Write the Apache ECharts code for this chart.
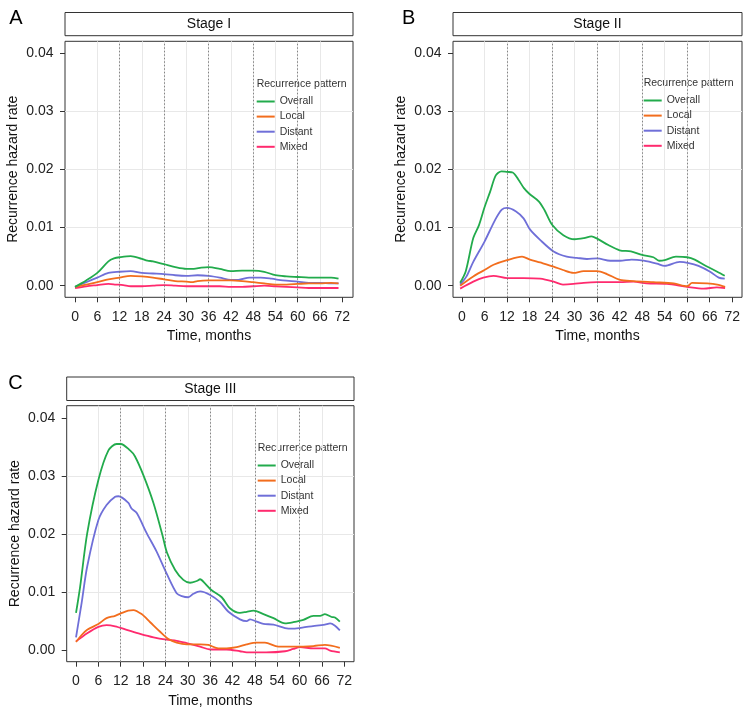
<!DOCTYPE html>
<html>
<head>
<meta charset="utf-8">
<script src="https://cdn.jsdelivr.net/npm/echarts@6/dist/echarts.min.js"></script>
<style>html,body{margin:0;padding:0;background:#fff}#c{width:744px;height:712px}</style>
</head>
<body>
<div id="c"></div>
<script>
// ---- data ----
const seriesNames = ['Overall', 'Local', 'Distant', 'Mixed'];
const panelTitles = ['Stage I', 'Stage II', 'Stage III'];
const panelLetters = ['A', 'B', 'C'];
const monthTicks = [0, 6, 12, 18, 24, 30, 36, 42, 48, 54, 60, 66, 72];
const rateTicks = [0, 0.01, 0.02, 0.03, 0.04];
const dottedMonths = [12, 24, 36, 48, 60];

const aOverall = [[0,-0.0002],[3,0.0009],[6,0.0022],[9,0.0042],[10.5,0.0047],[12,0.0049],[15,0.0051],[18,0.0046],[19.5,0.0043],[21,0.0042],[24,0.0037],[27,0.0032],[30,0.0029],[32,0.0029],[34,0.0031],[36,0.0032],[39,0.0029],[42,0.0025],[45,0.0026],[48,0.0026],[51,0.0024],[54,0.0018],[57,0.0016],[60,0.0015],[63,0.0014],[66,0.0014],[69,0.0014],[71,0.0012]];
const aLocal = [[0,-0.0002],[3,0.0002],[6,0.0006],[9,0.0011],[12,0.0014],[15,0.0017],[18,0.0016],[21,0.0014],[24,0.0011],[27,0.0008],[30,0.0007],[31.5,0.0006],[33,0.0008],[36,0.0009],[39,0.0009],[42,0.0009],[45,0.0008],[48,0.0006],[51,0.0004],[54,0.0002],[57,0.0002],[60,0.0003],[63,0.0004],[66,0.0004],[69,0.0005],[71,0.0004]];
const aDistant = [[0,-0.0002],[3,0.0006],[6,0.0014],[9,0.0022],[12,0.0024],[15,0.0025],[18,0.0022],[21,0.0021],[24,0.0020],[27,0.0018],[30,0.0017],[33,0.0018],[36,0.0017],[39,0.0014],[42,0.0010],[44,0.0010],[47,0.0014],[50,0.0014],[53,0.0012],[56,0.0009],[60,0.0007],[63,0.0005],[66,0.0005],[69,0.0004],[71,0.0004]];
const aMixed = [[0,-0.0004],[3,-0.0001],[6,0.0001],[9,0.0003],[11,0.0002],[13,0.0001],[15,-0.0001],[18,-0.0001],[21,0.0000],[24,0.0001],[27,0.0000],[30,-0.0001],[33,-0.0001],[36,-0.0001],[39,-0.0001],[42,-0.0002],[45,-0.0002],[48,-0.0001],[51,0.0000],[54,-0.0001],[57,-0.0002],[60,-0.0003],[63,-0.0004],[66,-0.0004],[69,-0.0004],[71,-0.0004]];

const bOverall = [[-0.5,0.0005],[1,0.0025],[3,0.0082],[4.5,0.0104],[6,0.0135],[7.5,0.0162],[9,0.0190],[10.5,0.0197],[12,0.0196],[13.5,0.0195],[15,0.0183],[16.5,0.0168],[18,0.0158],[20.5,0.0145],[22,0.0130],[24,0.0105],[27,0.0087],[30,0.0080],[32.5,0.0082],[34.5,0.0085],[36,0.0081],[39,0.0070],[42,0.0061],[45,0.0059],[48,0.0053],[51,0.0049],[52.5,0.0043],[54,0.0044],[57,0.0050],[60,0.0049],[62,0.0045],[65,0.0034],[68,0.0024],[70,0.0017]];
const bLocal = [[-0.5,0.0000],[3,0.0016],[6,0.0027],[8.4,0.0036],[12,0.0044],[16,0.0050],[18.1,0.0045],[20.8,0.0040],[24.4,0.0033],[26.9,0.0027],[29.7,0.0022],[32.4,0.0025],[36,0.0025],[38.6,0.0020],[42.1,0.0010],[45.7,0.0008],[51,0.0006],[56.4,0.0004],[60,-0.0001],[61.3,0.0005],[65.3,0.0004],[68,0.0002],[70.1,-0.0002]];
const bDistant = [[-0.5,0.0002],[1.2,0.0016],[3,0.0041],[6,0.0076],[8.8,0.0113],[10.6,0.0131],[12,0.0134],[14.4,0.0128],[16.4,0.0116],[18.1,0.0097],[20.8,0.0079],[24.4,0.0059],[27.9,0.0050],[30.6,0.0048],[33.3,0.0046],[36,0.0047],[39.5,0.0043],[42.1,0.0043],[45.2,0.0045],[48.4,0.0043],[51.9,0.0038],[54,0.0034],[58,0.0041],[60.4,0.0039],[63,0.0034],[66.1,0.0024],[68.4,0.0014],[70,0.0012]];
const bMixed = [[-0.5,-0.0005],[3,0.0007],[5.7,0.0014],[8.4,0.0017],[12,0.0013],[16.4,0.0013],[20.8,0.0012],[24.4,0.0007],[26.9,0.0002],[29.7,0.0003],[32.4,0.0005],[36,0.0006],[42.1,0.0006],[45.7,0.0007],[49.2,0.0004],[54.6,0.0003],[60,-0.0002],[64.4,-0.0005],[67.9,-0.0003],[70.1,-0.0004]];

const cOverall = [[0,0.0064],[1.1,0.0109],[3,0.0201],[6,0.0293],[8.7,0.0344],[10.9,0.0355],[12,0.0355],[14.5,0.0344],[15.8,0.0334],[18.1,0.0301],[20.8,0.0253],[23.2,0.0198],[24.4,0.0168],[26.6,0.0138],[28.8,0.0121],[30.6,0.0116],[32.4,0.0119],[33.3,0.0122],[34.6,0.0115],[36.4,0.0103],[39.1,0.0091],[41.3,0.0072],[44,0.0064],[45.8,0.0066],[47.6,0.0068],[50.3,0.0062],[53,0.0055],[56.1,0.0046],[58.3,0.0048],[61,0.0052],[63.7,0.0059],[65.5,0.0059],[66.8,0.0062],[68.6,0.0057],[69.5,0.0056],[70.8,0.0049]];
const cLocal = [[0,0.0014],[1.5,0.0026],[3,0.0035],[6,0.0045],[8.2,0.0055],[10.5,0.0059],[12.3,0.0064],[14,0.0068],[15.4,0.0069],[17.6,0.0062],[19.9,0.0048],[22.5,0.0032],[24.8,0.0019],[27,0.0013],[29.7,0.0010],[33.3,0.0010],[35.5,0.0009],[38.2,0.0003],[40.4,0.0003],[43.1,0.0005],[45.8,0.0010],[48.5,0.0013],[50.7,0.0013],[54.3,0.0006],[58.3,0.0006],[63.7,0.0007],[66.8,0.0009],[70.8,0.0004]];
const cDistant = [[0,0.0022],[1.5,0.0081],[3,0.0144],[6,0.0224],[8.2,0.0250],[10.5,0.0264],[11.4,0.0265],[14,0.0254],[14.9,0.0244],[16.3,0.0236],[19,0.0201],[21.6,0.0170],[24.3,0.0132],[27,0.0098],[28.4,0.0093],[30.1,0.0091],[31.5,0.0097],[33.3,0.0101],[36,0.0095],[38.6,0.0083],[40.9,0.0066],[44,0.0053],[45.8,0.0050],[46.7,0.0053],[48.5,0.0049],[50.3,0.0045],[53,0.0044],[56.1,0.0038],[58.3,0.0037],[61.9,0.0040],[64.6,0.0042],[66.8,0.0044],[68.2,0.0046],[69.5,0.0042],[70.8,0.0034]];
const cMixed = [[0,0.0015],[3,0.0029],[6,0.0040],[8.2,0.0043],[10.5,0.0041],[13.6,0.0035],[17.2,0.0028],[20.8,0.0022],[24.3,0.0018],[27,0.0016],[29.7,0.0012],[33.3,0.0006],[36,0.0001],[40.4,0.0001],[44,-0.0002],[45.8,-0.0004],[51,-0.0004],[56.1,-0.0002],[58.3,0.0002],[60.1,0.0005],[63.7,0.0003],[66.8,0.0003],[68.2,-0.0001],[70.8,-0.0004]];

const panelData = [
  [aOverall, aLocal, aDistant, aMixed],
  [bOverall, bLocal, bDistant, bMixed],
  [cOverall, cLocal, cDistant, cMixed]
];

// ---- layout / style ----
const FONT = '"Liberation Sans", Arial, Helvetica, sans-serif';
const colors = ['#22ab4c', '#f26d1d', '#6f6fd8', '#ff2a6e'];
const grids = [
  {left: 65, top: 41.3, width: 288, height: 256},
  {left: 453, top: 41.3, width: 289, height: 256},
  {left: 66.7, top: 405.7, width: 287.3, height: 256}
];
const xRanges = [[-2.7, 74.9], [-2.4, 74.6], [-2.5, 74.6]];
const yRange = [-0.002, 0.0421];
const strips = [
  {x: 65, y: 12.5, w: 288, h: 23.2},
  {x: 453, y: 12.5, w: 289, h: 23.2},
  {x: 66.7, y: 377, w: 287.3, h: 23.5}
];
const letterPos = [[15.8, 18.5], [408.7, 18.5], [15.5, 383.5]];
const legendPos = [
  {left: 256.7, top: 96, titleY: 84.3},
  {left: 643.7, top: 95, titleY: 82.7},
  {left: 257.7, top: 460, titleY: 448.3}
];

const chart = echarts.init(document.getElementById('c'), null, {renderer: 'canvas'});

const gridOpts = grids.map(g => Object.assign({show: true, borderColor: '#333', borderWidth: 1, backgroundColor: '#fff', containLabel: false}, g));

const xAxes = grids.map((g, i) => ({
  type: 'value', gridIndex: i, min: xRanges[i][0], max: xRanges[i][1],
  minInterval: 3, maxInterval: 3,
  axisLine: {show: false, onZero: false},
  axisTick: {show: true, length: 5, customValues: monthTicks, lineStyle: {color: '#333', width: 1}},
  axisLabel: {customValues: monthTicks, margin: 12.5, fontSize: 14, color: '#222', fontFamily: FONT},
  splitLine: {show: true, showMinLine: false, showMaxLine: false, lineStyle: {color: '#e8e8e8', width: 1}},
  name: 'Time, months', nameLocation: 'middle', nameGap: 32,
  nameTextStyle: {fontSize: 14, color: '#111', fontFamily: FONT}
}));

const yAxes = grids.map((g, i) => ({
  type: 'value', gridIndex: i, min: yRange[0], max: yRange[1],
  minInterval: 0.005, maxInterval: 0.005,
  axisLine: {show: false, onZero: false},
  axisTick: {show: true, length: 5, customValues: rateTicks, lineStyle: {color: '#333', width: 1}},
  axisLabel: {customValues: rateTicks, margin: 11.5, fontSize: 14, color: '#222', fontFamily: FONT,
    formatter: v => v.toFixed(2)},
  splitLine: {show: true, showMinLine: false, showMaxLine: false, lineStyle: {color: '#e8e8e8', width: 1}},
  name: 'Recurrence hazard rate', nameLocation: 'middle', nameGap: 45,
  nameTextStyle: {fontSize: 14, color: '#111', fontFamily: FONT}
}));

const series = [];
panelData.forEach((arrs, p) => {
  arrs.forEach((d, k) => {
    const s = {
      name: seriesNames[k], type: 'line', xAxisIndex: p, yAxisIndex: p,
      data: d, symbol: 'none', smooth: 0.3,
      lineStyle: {color: colors[k], width: 1.8},
      itemStyle: {color: colors[k]},
      z: 3 + (3 - k)
    };
    if (k === 0) {
      s.markLine = {
        silent: true, symbol: 'none', label: {show: false}, animation: false,
        lineStyle: {type: [1.5, 2], color: '#777', width: 0.9},
        data: dottedMonths.map(m => ({xAxis: m}))
      };
    }
    series.push(s);
  });
});

const legends = legendPos.map(l => ({
  orient: 'vertical', left: l.left, top: l.top, padding: 0,
  itemWidth: 18, itemHeight: 14, itemGap: 4.1,
  icon: 'path://M0,0 L18,0 L18,2 L0,2 Z', symbolKeepAspect: true,
  data: seriesNames, selectedMode: false,
  textStyle: {fontSize: 10.5, color: '#333', fontFamily: FONT}
}));

const graphic = [];
strips.forEach((s, i) => {
  graphic.push({type: 'rect', shape: {x: s.x, y: s.y, width: s.w, height: s.h},
    style: {fill: '#fff', stroke: '#333', lineWidth: 1}});
  graphic.push({type: 'text', x: s.x + s.w / 2, y: s.y + s.h / 2 + 0.5,
    style: {text: panelTitles[i], fontSize: 14, fontFamily: FONT, fill: '#111', align: 'center', verticalAlign: 'middle'}});
  graphic.push({type: 'text', x: letterPos[i][0], y: letterPos[i][1],
    style: {text: panelLetters[i], fontSize: 20, fontFamily: FONT, fill: '#000', align: 'center', verticalAlign: 'middle'}});
  graphic.push({type: 'text', x: legendPos[i].left, y: legendPos[i].titleY,
    style: {text: 'Recurrence pattern', fontSize: 10.5, fontFamily: FONT, fill: '#333', align: 'left', verticalAlign: 'middle'}});
});

chart.setOption({
  animation: false,
  backgroundColor: '#fff',
  grid: gridOpts,
  xAxis: xAxes,
  yAxis: yAxes,
  legend: legends,
  series: series,
  graphic: graphic
});
</script>
</body>
</html>
